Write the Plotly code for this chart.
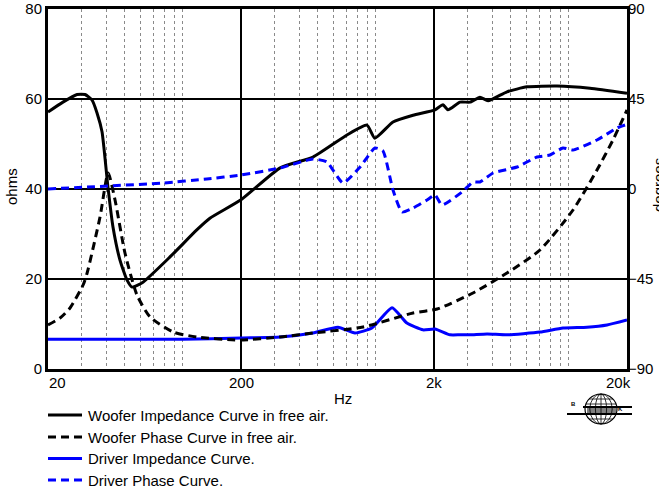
import math
import plotly.graph_objects as go

# ---------------- data ----------------
woofer_imp_freq = [20, 23.9, 28.3, 31.1, 33.8, 35.9, 38.1, 40.9, 43.4, 47.2, 51.3, 54.5, 62.1, 85.7,
                   118, 138, 200, 319, 472, 708, 899, 988, 1226, 1558, 2024, 2226, 2364, 2729,
                   3075, 3460, 3810, 4778, 6066, 8678, 12850, 20000]
woofer_imp_ohm = [57.1, 59.3, 61.0, 61.0, 59.8, 56.9, 52.7, 40.4, 31.6, 24.2, 19.8, 18.2, 19.3, 24.9,
                  30.9, 33.5, 37.6, 44.7, 47.1, 52.0, 54.2, 51.3, 54.9, 56.4, 57.6, 58.7, 57.6, 59.3,
                  59.3, 60.4, 59.6, 61.6, 62.7, 62.9, 62.4, 61.3]

woofer_phase_freq = [20, 23.1, 26, 30.4, 31.9, 37.2, 41, 44.5, 50.1, 57.8, 67.6, 88.9, 118, 197.6,
                     319, 472, 858, 1558, 2075, 3184, 4778, 7080, 10500, 13980, 16920, 20000]
woofer_phase_deg = [-68, -64.5, -59.5, -48, -42, -14, 8, -5.5, -32, -53, -64, -71.5, -74, -75.5,
                    -74, -72, -69, -62, -60, -52, -42, -30.5, -10.5, 9.5, 24.5, 39.5]

driver_imp_freq = [20, 100, 200, 319, 472, 636, 779, 954, 1212, 1448, 1752, 2024, 2420, 2729,
                   3075, 3767, 4778, 7080, 9320, 12400, 15760, 20000]
driver_imp_ohm = [6.6, 6.6, 6.9, 7.1, 8.0, 9.3, 8.0, 9.1, 13.6, 10.2, 8.7, 8.9, 7.6, 7.6,
                  7.6, 7.8, 7.6, 8.2, 9.1, 9.3, 9.8, 10.9]

driver_phase_freq = [20, 41, 79, 133, 200, 319, 472, 558, 675, 828, 988, 1088, 1226, 1366, 1558,
                     1840, 2024, 2198, 2794, 3184, 3460, 4046, 5383, 6838, 7982, 9320, 10500,
                     13980, 17740, 19540]
driver_phase_deg = [0, 1.5, 3, 5, 7, 10.5, 15, 13.5, 3, 11, 20.5, 19, -0.5, -11.5, -9.5,
                    -5.5, -3, -8, -1.5, 3.5, 3.5, 8, 11, 16, 17, 20.5, 19.5,
                    24.5, 30.5, 32]

series_names = ["Woofer Impedance Curve in free air.", "Woofer Phase Curve in free air.",
                "Driver Impedance Curve.", "Driver Phase Curve."]

x_tick_vals = [20, 200, 2000, 20000]
x_tick_text = ["20", "200", "2k", "20k"]
x_major_grid = [200, 2000]
x_minor_grid = [30, 40, 50, 60, 70, 80, 90, 100, 300, 400, 500, 600, 700, 800, 900, 1000,
                3000, 4000, 5000, 6000, 7000, 8000, 9000, 10000]
y_ticks = [0, 20, 40, 60, 80]
y2_ticks = [-90, -45, 0, 45, 90]

# ---------------- layout helpers ----------------
W, H = 659, 488
L, R, T, B = 48, 627, 9, 369
FONT = "Arial, Liberation Sans, Helvetica, sans-serif"


def px(x):
    return (x - L) / (R - L)


def py(y):
    return (B - y) / (B - T)


BLUE = "#0000ff"
DASH = "8px,5px"

styles = [
    dict(color="black", width=3, shape="spline", smoothing=0.5),
    dict(color="black", width=3, dash=DASH, shape="spline", smoothing=0.6),
    dict(color=BLUE, width=3, shape="spline", smoothing=0.5),
    dict(color=BLUE, width=3, dash=DASH, shape="spline", smoothing=0.5),
]

fig = go.Figure()
fig.add_trace(go.Scatter(x=woofer_imp_freq, y=woofer_imp_ohm, name=series_names[0], mode="lines",
                         line=styles[0]))
fig.add_trace(go.Scatter(x=woofer_phase_freq, y=woofer_phase_deg, name=series_names[1], mode="lines",
                         yaxis="y2", line=styles[1]))
fig.add_trace(go.Scatter(x=driver_imp_freq, y=driver_imp_ohm, name=series_names[2], mode="lines",
                         line=styles[2]))
fig.add_trace(go.Scatter(x=driver_phase_freq, y=driver_phase_deg, name=series_names[3], mode="lines",
                         yaxis="y2", line=styles[3]))

annotations = []
shapes = []

# x tick labels
for v, t in zip(x_tick_vals, x_tick_text):
    anchor = "center"
    shift = 0
    if v == x_tick_vals[0]:
        anchor = "left"
        shift = -1
    elif v == x_tick_vals[-1]:
        shift = -9
    annotations.append(dict(x=math.log10(v), xref="x", y=0, yref="paper", yshift=-13,
                            text=t, showarrow=False, xanchor=anchor, yanchor="middle", xshift=shift,
                            font=dict(size=15, color="black", family=FONT)))
annotations.append(dict(x=px(343), y=py(398), xref="paper", yref="paper", text="Hz", showarrow=False,
                        xanchor="center", yanchor="middle", font=dict(size=15, color="black", family=FONT)))
annotations.append(dict(x=px(11), y=py(187), xref="paper", yref="paper", text="ohms", showarrow=False,
                        textangle=-90, xanchor="center", yanchor="middle",
                        font=dict(size=15, color="black", family=FONT)))
annotations.append(dict(x=px(658), y=py(185), xref="paper", yref="paper", text="degrees", showarrow=False,
                        textangle=-90, xanchor="center", yanchor="middle",
                        font=dict(size=15, color="black", family=FONT)))

# custom legend (rows below the plot)
legend_rows = [415, 437, 458.5, 480]
for name, st, ry_ in zip(series_names, styles, legend_rows):
    ln = dict(color=st["color"], width=3)
    if "dash" in st:
        ln["dash"] = st["dash"]
    shapes.append(dict(type="line", xref="paper", yref="paper", x0=px(48), x1=px(82),
                       y0=py(ry_), y1=py(ry_), line=ln))
    annotations.append(dict(x=px(86), y=py(ry_), xref="paper", yref="paper", text=name, showarrow=False,
                            xanchor="left", yanchor="middle",
                            font=dict(size=15, color="black", family=FONT)))

# tiny logo letters
annotations.append(dict(x=px(578), y=py(409), xref="paper", yref="paper", text="<b>B</b>", showarrow=False,
                        font=dict(size=6, color="black", family=FONT)))
annotations.append(dict(x=px(625), y=py(414), xref="paper", yref="paper", text="<b>K</b>", showarrow=False,
                        font=dict(size=6, color="black", family=FONT)))

# logo (globe) shapes
cx, cy, rx, ry = 601, 409, 16, 15
shapes.append(dict(type="circle", xref="paper", yref="paper", x0=px(cx - rx), x1=px(cx + rx),
                   y0=py(cy + ry), y1=py(cy - ry), line=dict(color="black", width=1.2)))
for f in [0.35, 0.7]:
    shapes.append(dict(type="circle", xref="paper", yref="paper", x0=px(cx - rx * f), x1=px(cx + rx * f),
                       y0=py(cy + ry), y1=py(cy - ry), line=dict(color="black", width=0.8)))
shapes.append(dict(type="line", xref="paper", yref="paper", x0=px(cx), x1=px(cx),
                   y0=py(cy + ry), y1=py(cy - ry), line=dict(color="black", width=0.8)))
for dy in [-10, -5, 5, 10]:
    half = rx * math.sqrt(max(0.0, 1 - (dy / ry) ** 2))
    shapes.append(dict(type="line", xref="paper", yref="paper", x0=px(cx - half), x1=px(cx + half),
                       y0=py(cy + dy), y1=py(cy + dy), line=dict(color="black", width=0.8)))
for dy in [-1, 1, 3]:
    shapes.append(dict(type="line", xref="paper", yref="paper", x0=px(cx - 14), x1=px(cx + 15),
                       y0=py(cy + dy), y1=py(cy + dy), line=dict(color="black", width=1)))
shapes.append(dict(type="line", xref="paper", yref="paper", x0=px(583), x1=px(632),
                   y0=py(cy - 2), y1=py(cy - 2), line=dict(color="black", width=2)))
shapes.append(dict(type="line", xref="paper", yref="paper", x0=px(567), x1=px(632),
                   y0=py(cy + 5), y1=py(cy + 5), line=dict(color="black", width=2)))

fig.update_layout(
    width=W, height=H,
    margin=dict(l=L, r=W - R, t=T, b=H - B, pad=0, autoexpand=False),
    paper_bgcolor="white", plot_bgcolor="white",
    font=dict(family=FONT, size=15, color="black"),
    showlegend=False,
    xaxis=dict(type="log", range=[math.log10(20), math.log10(20000)],
               tickmode="array", tickvals=x_major_grid, showticklabels=False, ticks="",
               showgrid=True, gridcolor="black", gridwidth=2, zeroline=False,
               showline=True, mirror=True, linecolor="black", linewidth=3,
               minor=dict(tickmode="array", tickvals=x_minor_grid, showgrid=True,
                          gridcolor="#8a8a8a", griddash="dot", gridwidth=1, ticks="")),
    yaxis=dict(range=[0, 80], tickmode="array", tickvals=y_ticks, ticks="",
               showgrid=True, gridcolor="black", gridwidth=2, zeroline=False,
               showline=True, mirror=True, linecolor="black", linewidth=3,
               tickfont=dict(size=15, family=FONT, color="black")),
    yaxis2=dict(range=[-90, 90], tickmode="array", tickvals=y2_ticks, ticks="",
                overlaying="y", side="right", showgrid=False, zeroline=False,
                showline=False, tickfont=dict(size=15, family=FONT, color="black")),
    annotations=annotations,
    shapes=shapes,
)

fig.write_html("out.html")
